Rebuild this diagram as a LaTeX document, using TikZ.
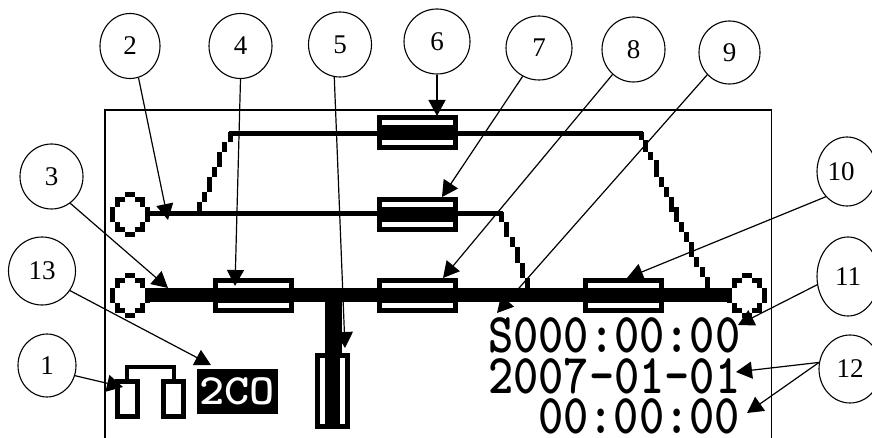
\documentclass[tikz,border=0pt]{standalone}
\usepackage{fontspec}
\setmainfont{Liberation Serif}
\usetikzlibrary{arrows.meta,shapes.geometric}
\tikzset{
    callout/.style={draw,ellipse,line width=1.1pt,inner sep=0pt,font=\fontsize{27}{27}\selectfont},
    pointer/.style={line width=1.2pt,-{Triangle[length=16pt,width=17pt]}},
    lcdtext/.style={anchor=west,inner sep=0pt,transform shape,font=\fontsize{48}{48}\selectfont\ttfamily\bfseries},
    ring/.pic={
        \foreach \c/\r in {3/0,4/0,1/1,2/1,5/1,6/1,1/2,6/2,0/3,7/3,0/4,7/4,0/5,7/5,1/6,6/6,1/7,2/7,5/7,6/7,3/8,4/8}{
            \fill (\c*5,\r*5) rectangle ++(5,5);
        }
    },
    fuse/.pic={
        \fill (-#1/2,-17.5) rectangle (#1/2,17.5);
        \fill[white] (-#1/2+5,-12.5) rectangle (#1/2-5,-7.5);
        \fill[white] (-#1/2+5,7.5) rectangle (#1/2-5,12.5);
    }
}
\begin{document}
\begin{tikzpicture}[x=1pt,y=-1pt]
    \useasboundingbox (0,0) rectangle (872,438);
    % screen
    \draw[line width=1.2pt] (105,438)--(105,110)--(771.5,110)--(771.5,438);
    % lines and stairs
    \fill (229,131) rectangle (643,136);
    \fill (150,211.5) rectangle (503,216.5);
    \fill (145,288) rectangle (731,302);
    \fill (325,302) rectangle (342,353);
    \foreach \x/\ya/\yb in {199/201.7/212,204/191.7/201.7,209.3/176.7/191.7,214.3/166.7/176.7,219.3/151.7/166.7,224.3/141.7/151.7,230/131.7/141.7,
                            641/131.7/140,645.7/140/151.7,650.7/151.7/160,656/160/176.7,661/176.7/186.7,666/186.7/196.7,671.7/196.7/211.7,676.7/206.7/221.7,681.7/221.7/231.7,686.7/231.7/241.7,691.7/241.7/256.7,696.7/256.7/266.7,702.7/266.7/276.7,707.7/276.7/288,
                            501.7/212/221.7,506.7/221.7/236.7,512.3/236.7/246.7,517.7/246.7/263.3,522.7/263.3/278.3,527.7/278.3/288}{
        \fill (\x-2.5,\ya) rectangle (\x+2.5,\yb);
    }
    \pic at (110,192) {ring};
    \pic at (110,273) {ring};
    \pic at (726.7,273) {ring};
    \foreach \x/\y in {417.5/133,417.5/214.5,417.5/295.5,253/295.5,623/295.5}{
        \pic at (\x,\y) {fuse=81};
    }
    \pic[rotate=90] at (332.5,391) {fuse=76};
    % indicator
    \draw[line width=4.6pt] (117.3,381.3) rectangle (137.7,416.7);
    \draw[line width=4.6pt] (163.3,381.3) rectangle (183.7,416.7);
    \draw[line width=4.4pt] (127,381)--(127,367)--(174,367)--(174,381);
    \fill (197,369) rectangle (278,414);
    \node[lcdtext,white,yscale=.9] (mode) at (199,391.5) {2CO};
    % readings
    \node[lcdtext,yscale=1.17] (counter) at (488,335.5) {S000:00:00};
    \node[lcdtext,yscale=1.17] (date) at (488,376) {2007-01-01};
    \node[lcdtext,yscale=1.17] (clock) at (538,416.5) {00:00:00};
    % callouts
    \foreach \n/\x/\y/\rx/\ry in {1/47/365.5/29/31.5,2/130/46/30/32.5,3/51.5/176.5/31.5/32.5,4/240.5/46/31.5/32.5,5/340/44.5/31.5/32.5,6/437/41.5/33/32.5,
                                  7/539/48/33/32,8/633.5/49.5/31.5/32.5,9/729.5/52.5/30.5/31.5,12/850/369/31/34,13/42/271/33.5/34}{
        \node[callout,minimum width=2*\rx,minimum height=2*\ry] (c\n) at (\x,\y) {\raisebox{-6pt}{\n}};
    }
    \node[callout,minimum width=60,minimum height=69] (c10) at (847,171.5) {\raisebox{-6pt}{10\hspace{12pt}}};
    \node[callout,minimum width=62,minimum height=79] (c11) at (848,276.5) {\raisebox{-2pt}{11}};
    % arrow ends
    \coordinate (t1) at (123,387);
    \coordinate (t2) at (168,220);
    \coordinate (t3) at (168,288);
    \coordinate (t4) at (235,286);
    \coordinate (t5) at (345,348);
    \coordinate (t6) at (437,116);
    \coordinate (t7) at (442,197);
    \coordinate (t8) at (443,278);
    \coordinate (t9) at (497,313);
    \coordinate (t10) at (627,278);
    \coordinate (t11) at (738,325);
    \coordinate (t12) at (736,372);
    \coordinate (t13) at (211,365);
    \coordinate (t14) at (747,413);
    \foreach \n/\a in {1/-20,2/-75,3/-55,4/-90,5/-100,6/-90,7/-120,8/-130,9/-135,10/-130,11/-165,12/168,13/-35}{
        \draw[pointer] (c\n.\a)--(t\n);
    }
    \draw[pointer] (c12.168)--(t14);
\end{tikzpicture}
\end{document}
